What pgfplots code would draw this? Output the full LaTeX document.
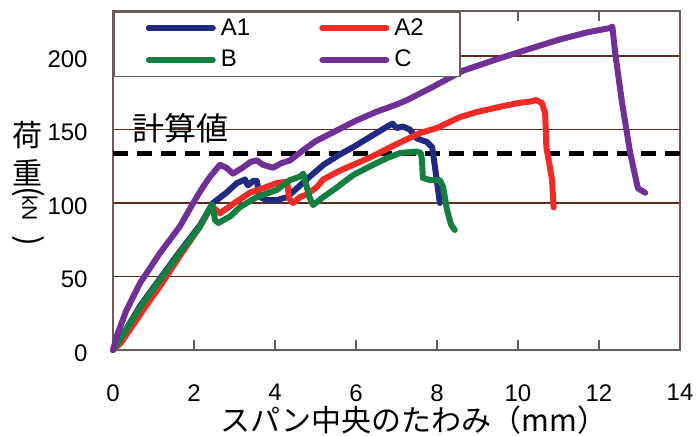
\documentclass[border=0pt]{standalone}
\usepackage{fontspec}
\setmainfont{Liberation Sans}
\newfontfamily\jp{Noto Sans CJK JP}
\usepackage{pgfplots}
\pgfplotsset{compat=1.18}
\definecolor{cA1}{RGB}{32,42,128}
\definecolor{cA2}{RGB}{240,42,36}
\definecolor{cB}{RGB}{20,128,64}
\definecolor{cC}{RGB}{112,48,150}
\definecolor{gridc}{RGB}{100,40,30}
\definecolor{framec}{RGB}{110,90,90}
\begin{document}
\begin{tikzpicture}
\begin{axis}[name=ax, scale only axis, width=283.5pt, height=169.5pt,
  xmin=0, xmax=14, ymin=0, ymax=230.6,
  xtick={0,2,...,14}, ytick={0,50,...,200},
  ymajorgrids, grid style={gridc, line width=0.55pt},
  axis line style={framec, line width=0.8pt},
  tick align=inside, major tick length=5pt,
  ytick style={draw=none}, xtick style={framec, line width=0.6pt},
  /pgf/number format/assume math mode=true,
  tick label style={font=\fontsize{12}{13}\selectfont},
  xticklabel style={anchor=north, inner sep=0pt, yshift=-17pt},
  yticklabel style={anchor=east, inner sep=0pt, xshift=-12.5pt, yshift=-1.5pt},
  clip=false,
  legend columns=2,
  legend image code/.code={\draw[#1, line cap=round] (0pt,0pt) -- (32pt,0pt);},
  legend style={at={(0,1)}, anchor=north west, draw=framec, line width=0.8pt, fill=white,
    font=\fontsize{12}{13}\selectfont, inner xsep=16pt, inner ysep=1.3pt, row sep=2pt,
    /tikz/column 1/.style={column sep=0.5pt},
    /tikz/column 2/.style={column sep=32.6pt},
    /tikz/column 3/.style={column sep=0.5pt},
    cells={anchor=west}},
  every axis plot/.append style={line width=3pt, line join=round, line cap=round},
]
\addplot[black, line width=2.5pt, line cap=butt, dash pattern=on 7.5pt off 4.5pt, forget plot] coordinates {(0,134) (14,134)};

\addplot[cA1] coordinates {
(0,0) (0.17,7) (0.67,30) (1.16,48.5) (1.65,67) (2.15,85) (2.47,100) (2.8,107) (3.06,113.6) (3.26,116) (3.33,112) (3.46,115) (3.55,115) (3.63,104) (3.8,102) (4.05,102) (4.3,104) (4.62,112) (4.86,118) (5.2,126) (5.6,133) (5.93,138) (6.35,145) (6.77,152) (6.9,154) (7.0,151) (7.16,152) (7.33,150) (7.5,144) (7.75,141.5) (7.88,138) (7.95,124.5) (8.07,100)
};
\addlegendentry{A1}

\addplot[cA2] coordinates {
(0,0) (0.2,5) (0.74,27) (1.2,45) (1.65,64) (2.1,82) (2.4,96) (2.47,97) (2.64,93) (3.0,100) (3.38,107) (3.7,110) (4.05,113.6) (4.3,114.5) (4.35,103) (4.44,100) (4.62,104) (4.8,106) (5.04,111) (5.19,116) (5.6,122) (6.35,131) (7.0,140) (7.58,147.6) (8.0,151) (8.57,158.5) (9.0,162) (9.48,165) (10.0,168) (10.3,169) (10.45,170) (10.59,168) (10.67,161) (10.7,138) (10.84,116) (10.88,97)
};
\addlegendentry{A2}

\addplot[cB] coordinates {
(0,0) (0.17,6.8) (0.67,29) (1.16,47.6) (1.65,66) (2.15,84) (2.4,97) (2.45,99) (2.52,88.4) (2.6,86.4) (2.9,91) (3.14,97.3) (3.55,104) (4.05,109) (4.37,115.6) (4.62,118) (4.7,120) (4.85,104) (4.94,98.6) (5.19,104) (5.5,110) (5.93,119) (6.35,125) (6.77,130.6) (7.09,134) (7.5,135) (7.6,134) (7.63,129) (7.65,117) (7.83,115.6) (8.07,115.6) (8.15,111) (8.25,95) (8.35,85) (8.44,81.6)
};
\addlegendentry{B}

\addplot[cC] coordinates {
(0,0) (0.1,10) (0.33,27) (0.67,45.6) (1.16,66) (1.65,84) (1.98,100) (2.2,110) (2.4,118) (2.64,126) (2.8,124) (2.96,120) (3.2,124) (3.4,128) (3.55,129) (3.7,126) (3.95,124) (4.15,127) (4.37,129) (4.7,136) (5.0,142) (5.5,149) (6.0,156) (6.5,162) (7.0,167) (7.26,170) (7.83,178) (8.64,190) (9.5,198) (10.3,205) (11.0,211) (11.7,216) (12.27,219) (12.33,220) (12.4,202) (12.57,168) (12.77,134) (12.96,110) (13.14,107)
};
\addlegendentry{C}
\end{axis}
\node[font=\jp\fontsize{16}{16}\selectfont] at ([xshift=33.5pt, yshift=111pt]ax.south west) {計算値};
\node[font=\jp\fontsize{15}{15}\selectfont, inner sep=0pt] at ([xshift=150.5pt, yshift=-35pt]ax.south west) {スパン中央のたわみ（mm）};
\node[font=\jp\fontsize{15}{15}\selectfont, inner sep=0pt] at ([xshift=-42.5pt, yshift=107.5pt]ax.south west) {荷};
\node[font=\jp\fontsize{15}{15}\selectfont, inner sep=0pt] at ([xshift=-42.5pt, yshift=88.5pt]ax.south west) {重};
\node[font=\jp\fontsize{16}{16}\selectfont, rotate=-90, inner sep=0pt] at ([xshift=-42.5pt, yshift=79pt]ax.south west) {(};
\node[font=\fontsize{10.5}{11}\selectfont, rotate=-90, inner sep=0pt] at ([xshift=-41.5pt, yshift=71pt]ax.south west) {kN};
\node[font=\jp\fontsize{16}{16}\selectfont, rotate=-90, inner sep=0pt] at ([xshift=-42.5pt, yshift=54.5pt]ax.south west) {)};
\pgfresetboundingbox
\path ([xshift=-56.5pt,yshift=-42.5pt]ax.south west) rectangle ([xshift=8pt,yshift=5.5pt]ax.north east);
\end{tikzpicture}
\end{document}
